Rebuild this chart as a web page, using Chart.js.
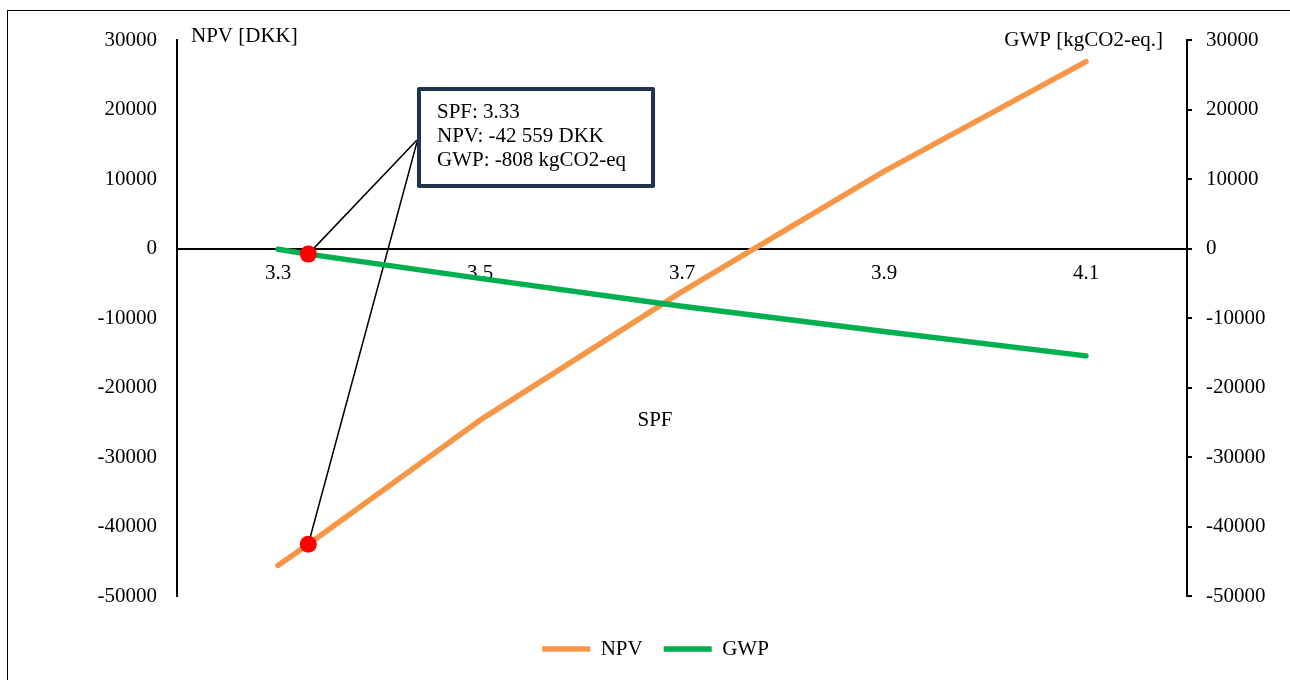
<!DOCTYPE html>
<html>
<head>
<meta charset="utf-8">
<script src="https://cdn.jsdelivr.net/npm/chart.js@4/dist/chart.umd.min.js"></script>
<style>
  html, body { margin: 0; padding: 0; background: #ffffff; }
  #wrap { width: 1290px; height: 680px; }
</style>
</head>
<body>
<div id="wrap"><canvas id="chart" width="1290" height="680"></canvas></div>
<script>
// SPF sweep with net present value and global warming potential
const spfValues = [3.3, 3.33, 3.5, 3.7, 3.9, 4.1];
const npvValues = [-45600, -42559, -24700, -6200, 11100, 26900];
const gwpValues = [-100, -808, -4300, -8300, -11950, -15450];

// Axis tick labels
const spfTicks = [3.3, 3.5, 3.7, 3.9, 4.1];
const valueTicks = [-50000, -40000, -30000, -20000, -10000, 0, 10000, 20000, 30000];

// Highlighted case
const highlightSpf = 3.33;
const highlightNpv = -42559;
const highlightGwp = -808;

const FONT = "'Liberation Serif', 'Times New Roman', serif";
const NPV_COLOR = '#F79646';
const GWP_COLOR = '#00B050';
const BOX_COLOR = '#1F3550';

Chart.defaults.font.family = FONT;
Chart.defaults.font.size = 21;
Chart.defaults.color = '#000000';

const pairs = (xs, ys) => xs.map((x, i) => ({ x: x, y: ys[i] }));
const spaced = v => String(v).replace(/\B(?=(\d{3})+(?!\d))/g, ' ');

const overlay = {
  id: 'overlay',
  beforeDatasetsDraw(chart) {
    const { ctx, chartArea, scales } = chart;
    const ax = chartArea.left + 240;
    const ay = chartArea.top + 100;
    const px = scales.x.getPixelForValue(highlightSpf);
    ctx.save();
    ctx.strokeStyle = '#000000';
    ctx.lineWidth = 1.5;
    ctx.beginPath();
    ctx.moveTo(ax, ay);
    ctx.lineTo(px, scales.y2.getPixelForValue(highlightGwp));
    ctx.moveTo(ax, ay + 2);
    ctx.lineTo(px, scales.y.getPixelForValue(highlightNpv));
    ctx.stroke();
    ctx.restore();
  },
  afterDraw(chart) {
    const { ctx, chartArea } = chart;
    ctx.save();
    // outer frame
    ctx.strokeStyle = '#000000';
    ctx.lineWidth = 1;
    ctx.strokeRect(7.5, 10.5, 1400, 800);

    // axis titles
    ctx.fillStyle = '#000000';
    ctx.font = '21px ' + FONT;
    ctx.textBaseline = 'middle';
    ctx.textAlign = 'left';
    ctx.fillText('NPV [DKK]', chartArea.left + 14, 36);
    ctx.textAlign = 'right';
    ctx.fillText('GWP [kgCO2-eq.]', chartArea.right - 24, 40);
    ctx.textAlign = 'center';
    ctx.fillText('SPF', chartArea.left + 478, 420);

    // callout box
    const bx = chartArea.left + 240;
    const by = chartArea.top + 47;
    const bw = 238, bh = 101;
    ctx.fillStyle = '#ffffff';
    ctx.fillRect(bx, by, bw, bh);
    ctx.strokeStyle = BOX_COLOR;
    ctx.lineWidth = 4;
    ctx.lineJoin = 'round';
    ctx.strokeRect(bx + 2, by + 2, bw - 4, bh - 4);
    ctx.fillStyle = '#000000';
    ctx.textAlign = 'left';
    ctx.fillText('SPF: ' + highlightSpf.toFixed(2), bx + 20, by + 25);
    ctx.fillText('NPV: ' + spaced(highlightNpv) + ' DKK', bx + 20, by + 49);
    ctx.fillText('GWP: ' + spaced(highlightGwp) + ' kgCO2-eq', bx + 20, by + 73);
    ctx.restore();
  }
};

new Chart(document.getElementById('chart'), {
  type: 'line',
  data: {
    datasets: [
      {
        label: 'NPV',
        data: pairs(spfValues, npvValues),
        borderColor: NPV_COLOR,
        backgroundColor: NPV_COLOR,
        borderWidth: 5.5,
        borderCapStyle: 'round',
        borderJoinStyle: 'round',
        pointRadius: 0,
        tension: 0,
        yAxisID: 'y',
        order: 2
      },
      {
        label: 'GWP',
        data: pairs(spfValues, gwpValues),
        borderColor: GWP_COLOR,
        backgroundColor: GWP_COLOR,
        borderWidth: 5.5,
        borderCapStyle: 'round',
        borderJoinStyle: 'round',
        pointRadius: 0,
        tension: 0,
        yAxisID: 'y2',
        order: 1
      },
      {
        label: 'NPV point',
        data: [{ x: highlightSpf, y: highlightNpv }],
        showLine: false,
        pointRadius: 8.5,
        pointBackgroundColor: '#FF0000',
        pointBorderWidth: 0,
        yAxisID: 'y',
        order: 0
      },
      {
        label: 'GWP point',
        data: [{ x: highlightSpf, y: highlightGwp }],
        showLine: false,
        pointRadius: 8.5,
        pointBackgroundColor: '#FF0000',
        pointBorderWidth: 0,
        yAxisID: 'y2',
        order: 0
      }
    ]
  },
  options: {
    responsive: false,
    animation: false,
    devicePixelRatio: 1,
    layout: { padding: { top: 40, left: 21, right: 0, bottom: 10.5 } },
    plugins: {
      tooltip: { enabled: false },
      legend: {
        position: 'bottom',
        title: { display: true, text: '', font: { size: 10, lineHeight: 1.15 }, padding: { top: 5, bottom: 5 } },
        labels: {
          usePointStyle: true,
          pointStyle: 'line',
          pointStyleWidth: 48,
          padding: 21,
          color: '#000000',
          font: { size: 21, family: FONT },
          filter: item => item.datasetIndex < 2,
          sort: (a, b) => a.datasetIndex - b.datasetIndex
        }
      }
    },
    scales: {
      x: {
        type: 'linear',
        min: 3.2,
        max: 4.2,
        position: { y: 0 },
        afterBuildTicks: s => { s.ticks = spfTicks.map(v => ({ value: v })); },
        ticks: { padding: 12, callback: v => v.toFixed(1), maxRotation: 0, autoSkip: false },
        grid: { display: false, drawTicks: false, tickLength: 0 },
        border: { display: true, color: '#000000', width: 2 }
      },
      y: {
        type: 'linear',
        position: 'left',
        min: -50000,
        max: 30000,
        afterBuildTicks: s => { s.ticks = valueTicks.map(v => ({ value: v })); },
        afterFit: s => { s.width = 156; },
        ticks: { padding: 20, callback: v => String(v) },
        grid: { display: false, drawTicks: false, tickLength: 0 },
        border: { display: true, color: '#000000', width: 2 }
      },
      y2: {
        type: 'linear',
        position: 'right',
        min: -50000,
        max: 30000,
        afterBuildTicks: s => { s.ticks = valueTicks.map(v => ({ value: v })); },
        afterFit: s => { s.width = 103; },
        ticks: { padding: 14, callback: v => String(v) },
        grid: { display: true, drawOnChartArea: false, drawTicks: true, tickLength: 5, color: '#000000', lineWidth: 2 },
        border: { display: true, color: '#000000', width: 2 }
      }
    }
  },
  plugins: [overlay]
});
</script>
</body>
</html>
